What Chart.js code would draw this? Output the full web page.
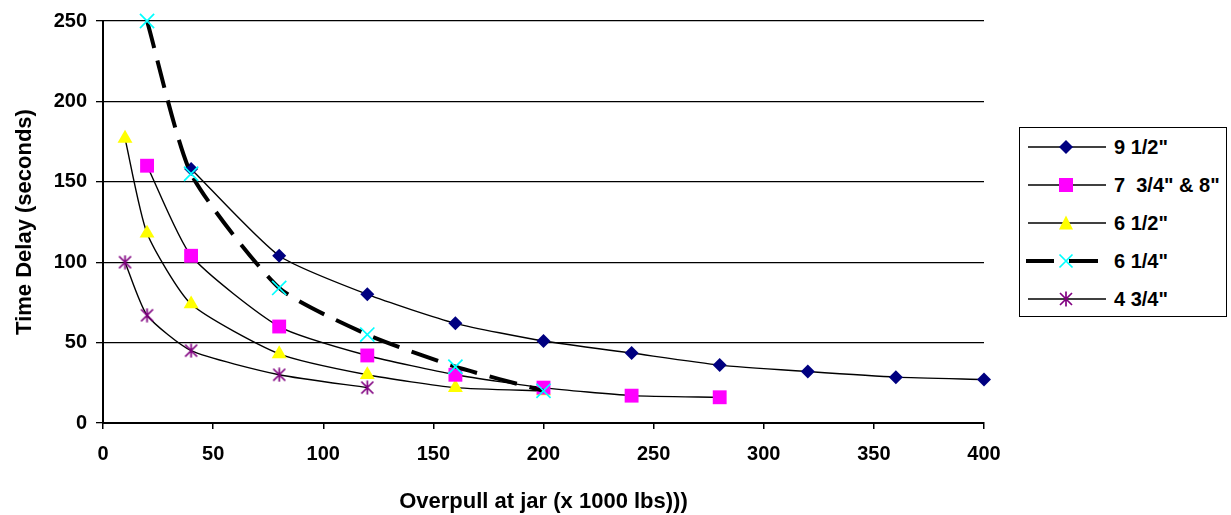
<!DOCTYPE html>
<html>
<head>
<meta charset="utf-8">
<script src="https://cdn.jsdelivr.net/npm/chart.js@4/dist/chart.umd.min.js"></script>
<style>
  html, body { margin: 0; padding: 0; background: #fff; }
  #wrap { position: relative; width: 1231px; height: 515px; }
  #legend { position: absolute; left: 1019px; top: 127px; width: 206px; height: 188px;
    border: 1.5px solid #000; background: #fff; font-family: "Liberation Sans", Arial, sans-serif;
    font-weight: bold; font-size: 20px; }
  .item { position: absolute; left: 6px; height: 20px; display: flex; align-items: center; }
  .item svg { display: block; }
  .item span { margin-left: 6px; white-space: pre; }
</style>
</head>
<body>
<div id="wrap">
  <canvas id="c" width="1231" height="515"></canvas>
  <div id="legend"></div>
</div>
<script>
const seriesNames = ['9 1/2"', '7  3/4" & 8"', '6 1/2"', '6 1/4"', '4 3/4"'];

const x95 = [40, 80, 120, 160, 200, 240, 280, 320, 360, 400];
const y95 = [158, 104, 80, 62, 51, 43.5, 36, 32, 28.5, 27];

const x78 = [20, 40, 80, 120, 160, 200, 240, 280];
const y78 = [160, 104, 60, 42, 30, 22, 17, 16];

const x65 = [10, 20, 40, 80, 120, 160, 200];
const y65 = [177, 118, 74, 43, 30, 22, 20];

const x64 = [20, 40, 80, 120, 160, 200];
const y64 = [250, 155, 84, 55, 35, 20];

const x47 = [10, 20, 40, 80, 120];
const y47 = [100, 67, 45, 30, 22];

const xTicks = [0, 50, 100, 150, 200, 250, 300, 350, 400];
const yTicks = [0, 50, 100, 150, 200, 250];

// custom asterisk marker (X with a vertical bar), as used by the spreadsheet
function starMarker(color, size) {
  const c = document.createElement('canvas');
  c.width = size; c.height = size;
  const g = c.getContext('2d');
  const h = size / 2, a = h - 1.5;
  g.strokeStyle = color; g.lineWidth = 1.7;
  g.beginPath();
  g.moveTo(h - a, h - a); g.lineTo(h + a, h + a);
  g.moveTo(h + a, h - a); g.lineTo(h - a, h + a);
  g.moveTo(h, 0.5); g.lineTo(h, size - 0.5);
  g.stroke();
  return c;
}

const styles = [
  { color: '#000080', pointStyle: 'rectRot', r: 7, dash: [], width: 1.4 },
  { color: '#FF00FF', pointStyle: 'rect', r: 9.8, dash: [], width: 1.4 },
  { color: '#FFFF00', pointStyle: 'triangle', r: 8.6, dash: [], width: 1.4 },
  { color: '#00FFFF', pointStyle: 'crossRot', r: 10, dash: [28, 13], width: 4 },
  { color: '#800080', pointStyle: starMarker('#800080', 15), r: 7, dash: [], width: 1.4 }
];

function pts(xs, ys) { return xs.map((x, i) => ({ x: x, y: ys[i] })); }
const allX = [x95, x78, x65, x64, x47];
const allY = [y95, y78, y65, y64, y47];

const datasets = seriesNames.map((name, i) => {
  const s = styles[i];
  return {
    label: name,
    data: pts(allX[i], allY[i]),
    borderColor: '#000',
    borderWidth: s.width,
    borderDash: s.dash,
    tension: 0.2,
    pointStyle: s.pointStyle,
    pointRadius: s.r,
    pointHoverRadius: s.r,
    pointBackgroundColor: s.color,
    pointBorderColor: s.color,
    pointBorderWidth: s.pointStyle === 'crossRot' ? 1.7 : 0,
    clip: false,
    order: i === 3 ? 0 : 1
  };
});

const FONT = '"Liberation Sans", Arial, sans-serif';

new Chart(document.getElementById('c'), {
  type: 'line',
  data: { datasets: datasets },
  options: {
    responsive: false,
    animation: false,
    events: [],
    layout: { padding: { left: 0, top: 20, right: 247, bottom: 0 } },
    plugins: { legend: { display: false }, tooltip: { enabled: false } },
    scales: {
      x: {
        type: 'linear', min: 0, max: 400,
        afterBuildTicks: (sc) => { sc.ticks = xTicks.map(v => ({ value: v })); },
        afterFit: (sc) => { sc.height = 92; },
        grid: { drawOnChartArea: false, drawTicks: true, tickLength: 6, color: '#000', lineWidth: 1.5 },
        border: { color: '#000', width: 2 },
        ticks: { color: '#000', font: { family: FONT, size: 20, weight: 'bold' }, padding: 13, maxRotation: 0 },
        title: { display: true, text: 'Overpull at jar (x 1000 lbs)))', color: '#000',
          font: { family: FONT, size: 22, weight: 'bold' }, padding: { top: 0, bottom: 0 } }
      },
      y: {
        type: 'linear', min: 0, max: 250,
        afterBuildTicks: (sc) => { sc.ticks = yTicks.map(v => ({ value: v })); },
        afterFit: (sc) => { sc.width = 103; },
        grid: { drawTicks: true, tickLength: 7, color: '#000', lineWidth: 1.3 },
        border: { color: '#000', width: 2 },
        ticks: { color: '#000', font: { family: FONT, size: 20, weight: 'bold' }, padding: 9 },
        title: { display: true, text: 'Time Delay (seconds)', color: '#000',
          font: { family: FONT, size: 22, weight: 'bold' }, padding: { top: 12, bottom: 0 } }
      }
    }
  }
});

// HTML legend built from the same series definitions
const legend = document.getElementById('legend');
const tops = [9, 47, 85, 123, 161];
function markerSvg(s, i) {
  const cx = 40, cy = 10;
  let m = '';
  if (i === 0) m = `<polygon points="${cx},${cy-7} ${cx+7},${cy} ${cx},${cy+7} ${cx-7},${cy}" fill="${s.color}"/>`;
  if (i === 1) m = `<rect x="${cx-7}" y="${cy-7}" width="14" height="14" fill="${s.color}"/>`;
  if (i === 2) m = `<polygon points="${cx},${cy-7.5} ${cx+7},${cy+6.5} ${cx-7},${cy+6.5}" fill="${s.color}"/>`;
  if (i === 3) m = `<path d="M${cx-6.5},${cy-6.5}L${cx+6.5},${cy+6.5}M${cx+6.5},${cy-6.5}L${cx-6.5},${cy+6.5}" stroke="${s.color}" stroke-width="1.7"/>`;
  if (i === 4) m = `<path d="M${cx-6},${cy-6}L${cx+6},${cy+6}M${cx+6},${cy-6}L${cx-6},${cy+6}M${cx},${cy-7.5}L${cx},${cy+7.5}" stroke="${s.color}" stroke-width="1.7"/>`;
  let line;
  if (s.dash.length) {
    line = `<line x1="0" y1="${cy}" x2="28" y2="${cy}" stroke="#000" stroke-width="4"/><line x1="43" y1="${cy}" x2="72" y2="${cy}" stroke="#000" stroke-width="4"/>`;
  } else {
    line = `<line x1="2" y1="${cy}" x2="80" y2="${cy}" stroke="#000" stroke-width="1.4"/>`;
  }
  return `<svg width="82" height="20">${line}${m}</svg>`;
}
seriesNames.forEach((n, i) => {
  const d = document.createElement('div');
  d.className = 'item';
  d.style.top = tops[i] + 'px';
  d.innerHTML = markerSvg(styles[i], i) + '<span></span>';
  d.querySelector('span').textContent = n;
  legend.appendChild(d);
});
</script>
</body>
</html>
